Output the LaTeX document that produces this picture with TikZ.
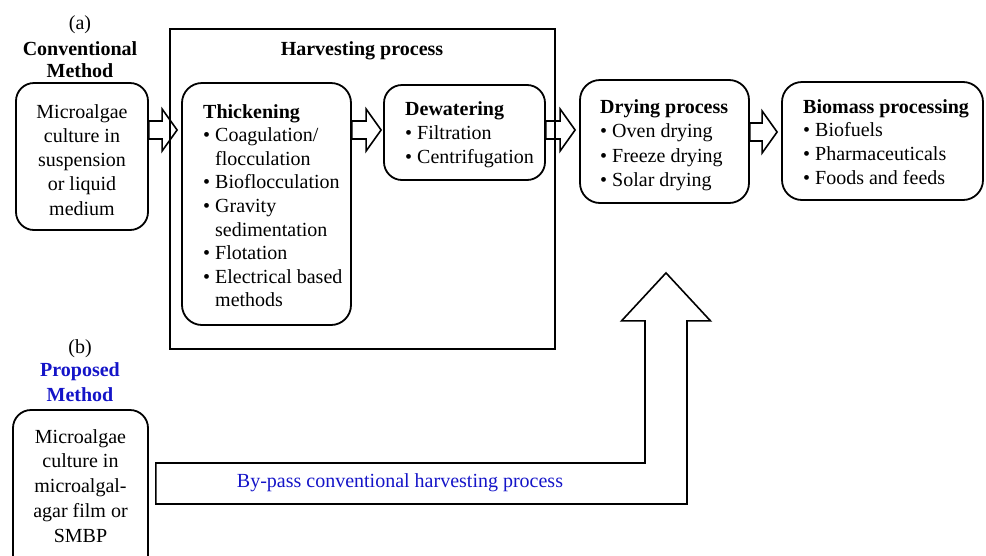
\documentclass[tikz,border=0pt]{standalone}
\usepackage{fontspec}
\setmainfont{Liberation Serif}
\usetikzlibrary{calc}
\definecolor{pblue}{RGB}{20,20,200}
\newcommand\fsz[1]{\fontsize{20}{#1}\selectfont}
\newcommand\bul{\textbullet}
\newcommand\blockarrow[2]{%
  \draw[barrow] let \p1=(#1), \p2=(#2) in
    (\x1,\y1+9pt) -- (\x2-15pt,\y1+9pt) -- (\x2-15pt,\y1+21pt) -- (\x2,\y1)
    -- (\x2-15pt,\y1-21pt) -- (\x2-15pt,\y1-9pt) -- (\x1,\y1-9pt) -- cycle;}
\tikzset{
  rbox/.style={draw, line width=1.8pt, rounded corners=18pt, inner sep=0pt},
  harvbox/.style={draw, line width=1.5pt, inner sep=0pt},
  barrow/.style={draw, line width=1.6pt, line join=miter},
  lbl/.style={inner sep=0pt, anchor=base},
  lst/.style={inner sep=0pt, anchor=base west},
}
\begin{document}
\begin{tikzpicture}[x=1pt,y=-1pt]
\useasboundingbox (0,0) rectangle (986,555);
\clip (0,0) rectangle (986,555);

% boxes
\node[harvbox, minimum width=385pt, minimum height=320pt] (harv) at (362.5,189) {};
\node[rbox, minimum width=132pt, minimum height=147pt] (conv) at (82,156.5) {};
\node[rbox, minimum width=169pt, minimum height=242pt, rounded corners=20pt] (thick) at (266.5,204) {};
\node[rbox, minimum width=161pt, minimum height=95pt] (dew) at (464.5,132.5) {};
\node[rbox, minimum width=169pt, minimum height=123pt, rounded corners=20pt] (dry) at (664.5,141.5) {};
\node[rbox, minimum width=201pt, minimum height=118pt, rounded corners=20pt] (bio) at (882.5,141) {};
\node[rbox, minimum width=135pt, minimum height=170pt] (prop) at (80.5,495) {};

% labels
\node[lbl] (la) at (80,29) {\fsz{24}(a)};
\node[lbl] (convt) at (80,55) {\fsz{22}\begin{tabular}[t]{@{}c@{}}\textbf{Conventional}\\\textbf{Method}\end{tabular}};
\node[lbl] (lb) at (80,353) {\fsz{24}(b)};
\node[lbl, text=pblue] (propt) at (80,376) {\fsz{25.5}\begin{tabular}[t]{@{}c@{}}\textbf{Proposed}\\\textbf{Method}\end{tabular}};

\node[lbl] (harvt) at (362,55) {\fsz{24}\textbf{Harvesting process}};

\node[lbl] (convx) at (82,118) {\fsz{24.25}\begin{tabular}[t]{@{}c@{}}Microalgae\\culture in\\suspension\\or liquid\\medium\end{tabular}};

\node[lbl] (propx) at (80.5,443) {\fsz{24.75}\begin{tabular}[t]{@{}c@{}}Microalgae\\culture in\\microalgal-\\agar film or\\SMBP\end{tabular}};

\node[lst] (thickx) at (203,118) {\fsz{23.6}\begin{tabular}[t]{@{}l@{\hspace{5pt}}l@{}}
\multicolumn{2}{@{}l@{}}{\textbf{Thickening}}\\
\bul & Coagulation/\\
 & flocculation\\
\bul & Bioflocculation\\
\bul & Gravity\\
 & sedimentation\\
\bul & Flotation\\
\bul & Electrical based\\
 & methods\end{tabular}};

\node[lst] (dewx) at (405,115) {\fsz{24}\begin{tabular}[t]{@{}l@{\hspace{5pt}}l@{}}
\multicolumn{2}{@{}l@{}}{\textbf{Dewatering}}\\
\bul & Filtration\\
\bul & Centrifugation\end{tabular}};

\node[lst] (dryx) at (600,113) {\fsz{24.5}\begin{tabular}[t]{@{}l@{\hspace{5pt}}l@{}}
\multicolumn{2}{@{}l@{}}{\textbf{Drying process}}\\
\bul & Oven drying\\
\bul & Freeze drying\\
\bul & Solar drying\end{tabular}};

\node[lst] (biox) at (803,113) {\fsz{23.7}\begin{tabular}[t]{@{}l@{\hspace{5pt}}l@{}}
\multicolumn{2}{@{}l@{}}{\textbf{Biomass processing}}\\
\bul & Biofuels\\
\bul & Pharmaceuticals\\
\bul & Foods and feeds\end{tabular}};

% block arrows
\blockarrow{conv.east |- 0,130}{$(thick.west |- 0,130)+(-4,0)$}
\blockarrow{thick.east |- 0,130}{$(dew.west |- 0,130)+(-2,0)$}
\blockarrow{dew.east |- 0,130}{$(dry.west |- 0,130)+(-4,0)$}
\blockarrow{dry.east |- 0,132}{$(bio.west |- 0,132)+(-4,0)$}

% by-pass arrow
\coordinate (bpL) at ($(prop.east |- 0,483.5)+(7,0)$);
\coordinate (bpTip) at ($(dry.south)+(1.5,69)$);
\draw[barrow] let \p1=(bpL), \p2=(bpTip) in
  (\x1,\y1+20.5pt) -- (\x2-21pt,\y1+20.5pt) -- (\x2-21pt,\y2-48pt)
  -- (\x2-44.5pt,\y2-48pt) -- (\x2,\y2) -- (\x2+44.5pt,\y2-48pt)
  -- (\x2+21pt,\y2-48pt) -- (\x2+21pt,\y1-20.5pt) -- (\x1,\y1-20.5pt) -- cycle;
\node[lbl, text=pblue] (bpt) at (400,487) {\fsz{24}By-pass conventional harvesting process};
\end{tikzpicture}
\end{document}
